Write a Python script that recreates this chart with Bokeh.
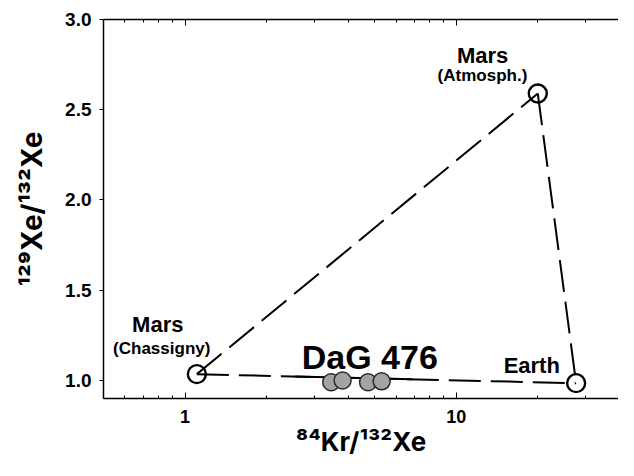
from bokeh.plotting import figure
from bokeh.models import (ColumnDataSource, FixedTicker, NumeralTickFormatter,
                          LogAxis, Range1d, CustomJSTickFormatter)
from bokeh.core.properties import value
from bokeh.embed import file_html
from bokeh.resources import INLINE

FONT = "Liberation Sans"
TFONT = "Inter"

# Reservoir end-members: Mars (Chassigny), Mars (Atmosphere), Earth
end_names = ["Mars (Chassigny)", "Mars (Atmosph.)", "Earth"]
end_kr = [1.105, 20.0, 27.7]      # 84Kr/132Xe
end_xe = [1.035, 2.59, 0.985]     # 129Xe/132Xe

# DaG 476 measurements
dag_kr = [3.46, 3.81, 4.73, 5.31]
dag_xe = [0.99, 1.0, 0.99, 0.995]

# solid portion of the Chassigny-Earth mixing line through DaG 476
dag_line_kr = [2.55, 6.9]
dag_line_xe = [1.0225, 1.0065]

# tick values
x_major = [1, 10]
x_minor = [0.5, 0.6, 0.7, 0.8, 0.9, 2, 3, 4, 5, 6, 7, 8, 9, 20, 30]
y_major = [1.0, 1.5, 2.0, 2.5, 3.0]

# axis titles
x_title = "\u2078\u2074Kr/\u00b9\u00b3\u00b2Xe"
y_title = "\u00b9\u00b2\u2079Xe/\u00b9\u00b3\u00b2Xe"

# annotation texts
lab_text = ["Mars", "(Chassigny)", "Mars", "(Atmosph.)", "DaG 476", "Earth"]
lab_x = [0.793, 0.820, 12.52, 12.50, 4.80, 19.0]
lab_y = [1.309, 1.176, 2.802, 2.687, 1.130, 1.084]
lab_size = ["22px", "17px", "22px", "17px", "34px", "22px"]

p = figure(width=618, height=460, x_axis_type="log",
           x_range=Range1d(0.5, 39.7), y_range=Range1d(0.9, 3.0),
           output_backend="svg", toolbar_location=None,
           min_border_left=103, min_border_right=0, min_border_top=19,
           min_border_bottom=62)
p.outline_line_color = None
p.grid.visible = False
p.background_fill_color = "white"
p.border_fill_color = "white"

# axes
p.xaxis.ticker = FixedTicker(ticks=x_major, minor_ticks=x_minor)
p.xaxis.formatter = NumeralTickFormatter(format="0")
p.xaxis.major_tick_in = 6
p.xaxis.major_tick_out = 0
p.xaxis.minor_tick_in = 3
p.xaxis.minor_tick_out = 0
p.xaxis.major_label_standoff = 11
p.xaxis.major_label_text_font = FONT
p.xaxis.major_label_text_font_style = "bold"
p.xaxis.major_label_text_font_size = "18px"
p.xaxis.major_label_text_color = "black"
p.xaxis.axis_line_width = 1.5
p.xaxis.axis_label = x_title
p.xaxis.axis_label_text_font = TFONT
p.xaxis.axis_label_text_font_style = "bold"
p.xaxis.axis_label_text_font_size = "26px"
p.xaxis.axis_label_text_color = "black"
p.xaxis.axis_label_standoff = 0

p.yaxis.ticker = FixedTicker(ticks=y_major)
p.yaxis.formatter = NumeralTickFormatter(format="0.0")
p.yaxis.major_tick_in = 0
p.yaxis.major_tick_out = 4
p.yaxis.minor_tick_line_color = None
p.yaxis.major_label_standoff = 8
p.yaxis.major_label_text_font = FONT
p.yaxis.major_label_text_font_style = "bold"
p.yaxis.major_label_text_font_size = "19px"
p.yaxis.major_label_text_color = "black"
p.yaxis.axis_line_width = 1.5
p.yaxis.axis_label = y_title
p.yaxis.axis_label_text_font = TFONT
p.yaxis.axis_label_text_font_style = "bold"
p.yaxis.axis_label_text_font_size = "28px"
p.yaxis.axis_label_text_color = "black"
p.yaxis.axis_label_standoff = 13

top = LogAxis(ticker=FixedTicker(ticks=x_major, minor_ticks=x_minor),
              formatter=CustomJSTickFormatter(code="return ''"),
              major_tick_in=6, major_tick_out=0, minor_tick_in=3,
              minor_tick_out=0, major_label_standoff=0,
              major_label_text_font_size="8px", axis_line_width=1.5)
p.add_layout(top, "above")

# mixing triangle (dashed)
dash = "32 10"
p.line([end_kr[0], end_kr[1]], [end_xe[0], end_xe[1]], line_color="black",
       line_width=2, line_dash=dash)
p.line([end_kr[1], end_kr[2]], [end_xe[1], end_xe[2]], line_color="black",
       line_width=2, line_dash=dash)
p.line([end_kr[0], end_kr[2]], [end_xe[0], end_xe[2]], line_color="black",
       line_width=2, line_dash=dash)
p.line(dag_line_kr, dag_line_xe, line_color="black", line_width=2)

# end-member circles
p.scatter(end_kr, end_xe, marker="circle", size=18, fill_color=None,
          line_color="black", line_width=2.4)

# DaG 476 points
p.scatter(dag_kr, dag_xe, marker="circle", size=17, fill_color="#a3a3a3",
          line_color="#2a2a2a", line_width=1.5)

# in-plot labels
src = ColumnDataSource(dict(x=lab_x, y=lab_y, t=lab_text, s=lab_size))
p.text(x="x", y="y", text="t", source=src, text_font=value(FONT),
       text_font_style="bold", text_font_size="s", text_align="center",
       text_baseline="alphabetic", text_color="black")

open("out.html", "w").write(file_html(p, INLINE))
